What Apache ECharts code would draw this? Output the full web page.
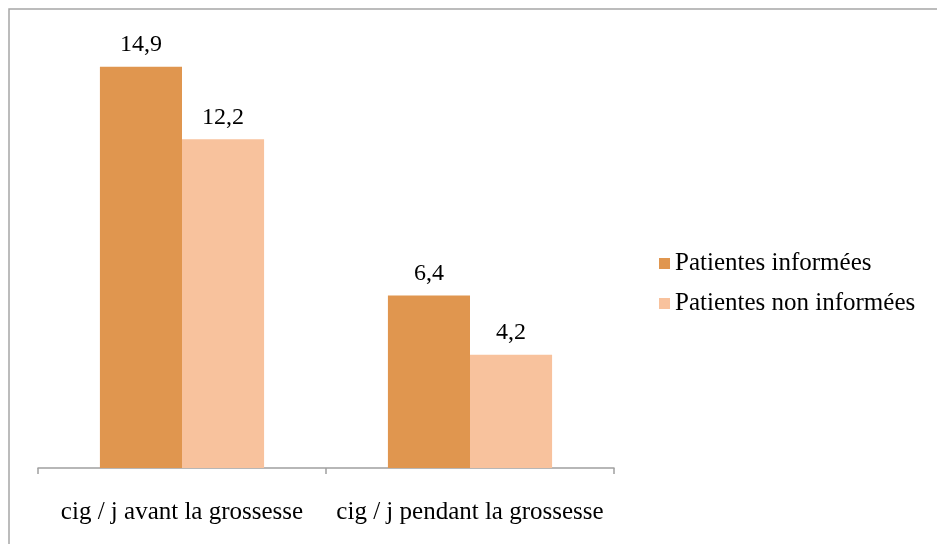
<!DOCTYPE html>
<html>
<head>
<meta charset="utf-8">
<script src="https://cdn.jsdelivr.net/npm/echarts@6/dist/echarts.min.js"></script>
<style>
  html, body { margin: 0; padding: 0; background: #fff; }
  #chart { width: 937px; height: 544px; }
</style>
</head>
<body>
<div id="chart"></div>
<script>
const categories = ['cig / j avant la grossesse', 'cig / j pendant la grossesse'];
const informees = [14.9, 6.4];
const nonInformees = [12.2, 4.2];

const chart = echarts.init(document.getElementById('chart'));
const font = '"Liberation Serif", "Times New Roman", serif';
const fmt = p => String(p.value).replace('.', ',');

const option = {
  backgroundColor: '#fff',
  animation: false,
  textStyle: { fontFamily: font },
  graphic: [{
    type: 'rect',
    shape: { x: 9, y: 9, width: 1000, height: 600 },
    style: { fill: 'none', stroke: '#a6a6a6', lineWidth: 1.5 }
  }],
  grid: { left: 38, right: 323, top: 37, bottom: 76 },
  legend: {
    orient: 'vertical',
    left: 654,
    top: 246,
    itemWidth: 11,
    itemHeight: 11,
    itemGap: 15,
    icon: 'rect',
    textStyle: { fontFamily: font, fontSize: 25, color: '#000' },
    data: ['Patientes informées', 'Patientes non informées']
  },
  xAxis: {
    type: 'category',
    data: categories,
    axisLine: { lineStyle: { color: '#a0a0a0', width: 1.5 } },
    axisTick: { show: true, length: 6, inside: false, lineStyle: { color: '#a0a0a0', width: 1.5 } },
    axisLabel: { interval: 0, hideOverlap: false, fontFamily: font, fontSize: 25, color: '#000', margin: 32 }
  },
  yAxis: {
    type: 'value',
    min: 0,
    max: 16,
    show: false,
    splitLine: { show: false }
  },
  series: [
    {
      name: 'Patientes informées',
      type: 'bar',
      data: informees,
      barWidth: '28.5%',
      barGap: '0%',
      itemStyle: { color: '#e0964f' },
      label: { show: true, position: 'top', distance: 10, fontFamily: font, fontSize: 24, color: '#000', formatter: fmt }
    },
    {
      name: 'Patientes non informées',
      type: 'bar',
      data: nonInformees,
      barWidth: '28.5%',
      itemStyle: { color: '#f8c29d' },
      label: { show: true, position: 'top', distance: 10, fontFamily: font, fontSize: 24, color: '#000', formatter: fmt }
    }
  ]
};
chart.setOption(option);
</script>
</body>
</html>
